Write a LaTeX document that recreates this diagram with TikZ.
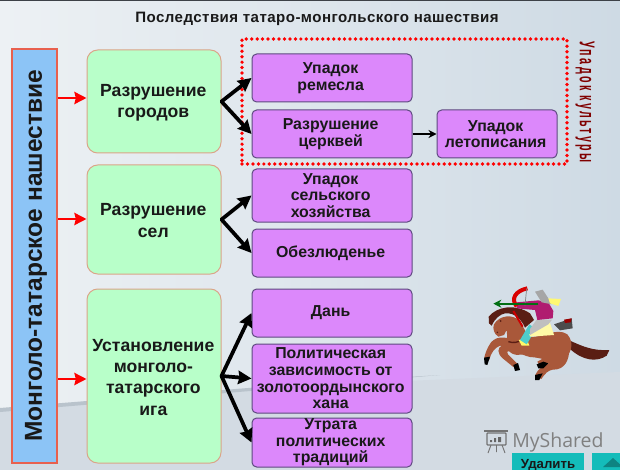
\documentclass[tikz,border=0pt]{standalone}
\usepackage{fontspec}
\setmainfont{Liberation Sans}
\newfontfamily\logofont{Open Sans}
\usetikzlibrary{arrows.meta}
\definecolor{bgL}{HTML}{EDF1F4}
\definecolor{bgR}{HTML}{CEDAE4}
\definecolor{bgLow}{HTML}{D3DBE3}
\definecolor{band}{HTML}{B9C3CC}
\definecolor{blueF}{HTML}{8CC4F6}
\definecolor{blueB}{HTML}{E8604E}
\definecolor{greenF}{HTML}{B8FFC9}
\definecolor{greenB}{HTML}{DBA488}
\definecolor{purF}{HTML}{DC88FB}
\definecolor{purB}{HTML}{5E4A80}
\definecolor{teal}{HTML}{14BCBA}
\definecolor{horse}{HTML}{A9583A}
\definecolor{mane}{HTML}{5A1E14}
\definecolor{robe}{HTML}{B01C70}
\tikzset{
  x=0.75pt,y=-0.75pt,
  px/.style={font=\fontsize{#1}{#1}\selectfont\bfseries},
  greenbox/.style={draw=greenB,line width=0.75pt,fill=greenF,rounded corners=8pt,inner sep=0pt},
  greenboxtext/.style={align=center,inner sep=0pt,text=black!90,yshift=-0.8pt,xshift=-0.5pt,font=\fontsize{13.2}{16}\selectfont\bfseries},
  purbox/.style={draw=purB,line width=0.75pt,fill=purF,rounded corners=3.5pt,inner sep=0pt},
  purboxtext/.style={align=center,inner sep=0pt,text=black!90,xshift=-1pt,font=\fontsize{11.9}{12.5}\selectfont\bfseries},
  redarrow/.style={draw=red,line width=2.1pt,-{Stealth[length=9pt,width=9pt,inset=1pt]}},
  blackarrow/.style={draw=black,line width=2.8pt,line cap=round,-{Stealth[length=10pt,width=10pt,inset=1pt]}},
  thinarrow/.style={draw=black,line width=1.5pt,-{Stealth[length=6pt,width=6pt]}},
}
\newcommand{\bx}[7]{%
  \node[#6,minimum width={(#4-#2)*0.75pt},minimum height={(#5-#3)*0.75pt}] (#1) at ({(#2+#4)/2},{(#3+#5)/2}) {};
  \node[#6text] (#1t) at (#1) {#7};}
\begin{document}
\begin{tikzpicture}
\useasboundingbox (0,0) rectangle (620,470);
% background
\shade[left color=bgL,right color=bgR] (0,0) rectangle (620,470);
\fill[bgLow] (0,411) -- (310,385) -- (620,372) -- (620,470) -- (0,470) -- cycle;
\fill[band] (0,408) -- (310,383) -- (440,375) -- (310,386) -- (0,412) -- cycle;
\fill[black!65!cyan!50!black] (0,0) rectangle (620,1.5);
% title
\node[font=\fontsize{11.3}{11.3}\selectfont\bfseries\addfontfeature{LetterSpace=3},text=black!90] (title) at (317,19) {Последствия татаро-монгольского нашествия};
% dotted frame
\node[draw=red,line width=2.8pt,dash pattern=on 0pt off 4.1pt,line cap=round,minimum width=243.75pt,minimum height=93.75pt,inner sep=0pt] (frame) at (404.5,101.5) {};
% left bar
\node[draw=blueB,line width=1.8pt,fill=blueF,inner sep=0pt,minimum width=33.75pt,minimum height=310.5pt] (bar) at (34.5,256) {};
\node[rotate=90,px=18.4,text=black!90] (bartext) at (36,256) {Монголо-татарское нашествие};
% green boxes
\bx{g1}{87}{50}{221}{153}{greenbox}{Разрушение\\городов}
\bx{g2}{87}{165}{221}{274}{greenbox}{Разрушение\\сел}
\bx{g3}{87}{289}{221}{463}{greenbox}{Установление\\монголо-\\татарского\\ига}
% purple boxes
\bx{p1}{252}{54}{412}{102}{purbox}{Упадок\\ремесла}
\bx{p2}{252}{110}{412}{158}{purbox}{Разрушение\\церквей}
\bx{p3}{437}{110}{557}{158}{purbox}{Упадок\\летописания}
\bx{p4}{252}{169}{412}{222}{purbox}{Упадок\\сельского\\хозяйства}
\bx{p5}{252}{229}{412}{277}{purbox}{Обезлюденье}
\bx{p6}{252}{289}{412}{337}{purbox}{Дань}
\bx{p7}{252}{344}{412}{413}{purbox}{Политическая\\зависимость от\\золотоордынского\\хана}
\bx{p8}{252}{418}{412}{467}{purbox}{Утрата\\политических\\традиций}
% red connectors
\draw[redarrow] (bar.east |- 0,98) -- (g1.west |- 0,98);
\draw[redarrow] (bar.east |- 0,219) -- (g2.west |- 0,219);
\draw[redarrow] (bar.east |- 0,379) -- (g3.west |- 0,379);
% black connectors
\draw[blackarrow] (g1.east) -- (p1.west);
\draw[blackarrow] (g1.east) -- (p2.west);
\draw[blackarrow] (g2.east) -- (p4.west);
\draw[blackarrow] (g2.east) -- (p5.west);
\draw[blackarrow] (g3.east) -- (p6.west);
\draw[blackarrow] (g3.east) -- (p7.west);
\draw[blackarrow] (g3.east) -- (p8.west);
\draw[thinarrow] (p2.east) -- (p3.west);
% vertical caption
\node[rotate=-90,inner sep=0pt,text=red!50!black] (cap) at (585,102) {\scalebox{0.5}[1]{\fontsize{16}{16}\selectfont\bfseries\addfontfeature{LetterSpace=22}Упадок культуры}};
% horseman, in coordinates of a 3x crop
\begin{scope}[shift={(480,285)},x=0.25pt,y=-0.25pt]
  \fill[mane] (272,168) .. controls (310,185) and (340,198) .. (388,195) -- (380,212) .. controls (350,232) and (310,228) .. (270,192) -- cycle;
  % hind legs
  \fill[horse] (268,190) .. controls (268,225) and (255,255) .. (218,254) .. controls (205,256) and (195,265) .. (184,282) -- (165,272) .. controls (175,250) and (190,238) .. (225,230) -- (235,190) -- cycle;
  \fill[horse] (240,200) .. controls (240,228) and (225,238) .. (205,236) -- (178,242) -- (172,230) .. controls (190,220) and (200,215) .. (205,200) -- cycle;
  % front legs
  \fill[horse] (115,165) .. controls (80,160) and (55,148) .. (33,172) .. controls (22,188) and (15,205) .. (12,222) -- (28,224) .. controls (32,205) and (44,188) .. (60,182) .. controls (75,182) and (90,195) .. (115,195) -- cycle;
  \fill[horse] (125,175) .. controls (100,190) and (82,174) .. (68,180) .. controls (50,188) and (52,206) .. (68,220) -- (100,246) -- (114,238) -- (84,208) .. controls (78,198) and (85,194) .. (95,205) .. controls (115,215) and (140,210) .. (145,190) -- cycle;
  % body, neck, head
  \fill[horse] (42,118) .. controls (60,88) and (100,88) .. (120,108) -- (145,155) .. controls (180,162) and (230,125) .. (262,148) .. controls (285,175) and (275,210) .. (240,232) .. controls (210,232) and (190,218) .. (150,216) .. controls (125,210) and (90,195) .. (82,165) .. controls (80,150) and (82,142) .. (80,135) -- (72,150) -- (55,155) .. controls (42,147) and (37,130) .. (42,118) -- cycle;
  % mane
  \fill[mane] (26,95) .. controls (50,65) and (105,55) .. (150,85) -- (162,105) -- (135,128) .. controls (125,105) and (105,82) .. (75,85) .. controls (60,88) and (45,100) .. (35,122) -- (27,115) -- cycle;
  \draw[red!80!black,line width=1.5pt] (100,78) -- (128,125);
  \fill[mane] (62,108) circle [radius=3];
  \fill[mane] (52,142) circle [radius=2.5];
  \draw[mane,line width=1pt] (85,170) .. controls (100,175) and (115,172) .. (125,165);
  % hooves
  \fill[black] (12,218) -- (30,215) -- (22,240) -- (14,238) -- cycle;
  \fill[black] (100,240) -- (114,234) -- (120,255) -- (105,258) -- cycle;
  \fill[black] (165,270) -- (188,265) -- (178,285) -- (165,285) -- cycle;
  \fill[black] (170,238) -- (190,230) -- (205,235) -- (190,250) -- (175,250) -- cycle;
  % saddle
  \fill[yellow!60!white] (116,165) -- (140,160) -- (148,182) -- (125,182) -- cycle;
  \fill[teal!75!white] (148,118) -- (168,132) -- (140,178) -- (120,165) -- cycle;
  % quiver
  \fill[black!70] (222,118) -- (275,100) -- (278,130) -- (240,136) -- cycle;
  \fill[red!60!black] (252,104) -- (275,100) -- (272,112) -- (255,114) -- cycle;
  \fill[yellow!35!white] (148,148) -- (208,108) -- (222,150) -- (150,155) -- cycle;
  \fill[gray!50!white] (150,132) -- (170,104) -- (216,104) -- (205,118) -- (150,150) -- cycle;
  % rider
  \fill[robe] (110,52) -- (175,46) -- (205,52) -- (220,78) -- (218,100) -- (172,105) -- (165,75) -- (110,70) -- cycle;
  \fill[gray!70!white] (165,20) -- (188,14) -- (205,40) -- (215,58) -- (185,52) -- cycle;
  \fill[yellow!55!white] (205,40) -- (243,42) -- (235,63) -- (210,55) -- cycle;
  % bow and arrow
  \draw[red!85!black,line width=3pt] (142,10) .. controls (105,18) and (92,42) .. (110,64);
  \draw[gray,line width=0.5pt] (140,10) -- (135,62);
  \draw[green!40!black!90!teal,line width=1.3pt,-{Stealth[length=6pt,width=6pt]}] (175,56) -- (40,56);
\end{scope}
% logo
\draw[black!55,line width=0.9pt,rounded corners=0.5pt] (487,433) rectangle (506,445);
\draw[black!55,line width=1.2pt] (484,431) -- (508,431);
\draw[black!55,line width=0.7pt] (491,445) -- (488,453) (502,445) -- (505,453) (496.5,445) -- (496.5,452);
\fill[black!60] (490,442) rectangle (492,440) (494,442) rectangle (496,438) (498,442) rectangle (501,437);
\node[font=\logofont\fontsize{14.6}{14.6}\selectfont,text=black!50,anchor=base west,inner sep=0pt] (logo) at (512,447) {MyShared};
% buttons
\fill[teal] (512,453) rectangle (584,470);
\node[px=9.9,text=black!90] (del) at (548,465) {Удалить};
\fill[teal] (592,453) rectangle (620,470);
\fill[black!30!teal] (603,467) -- (623,467) -- (613,458) -- cycle;
\end{tikzpicture}
\end{document}
